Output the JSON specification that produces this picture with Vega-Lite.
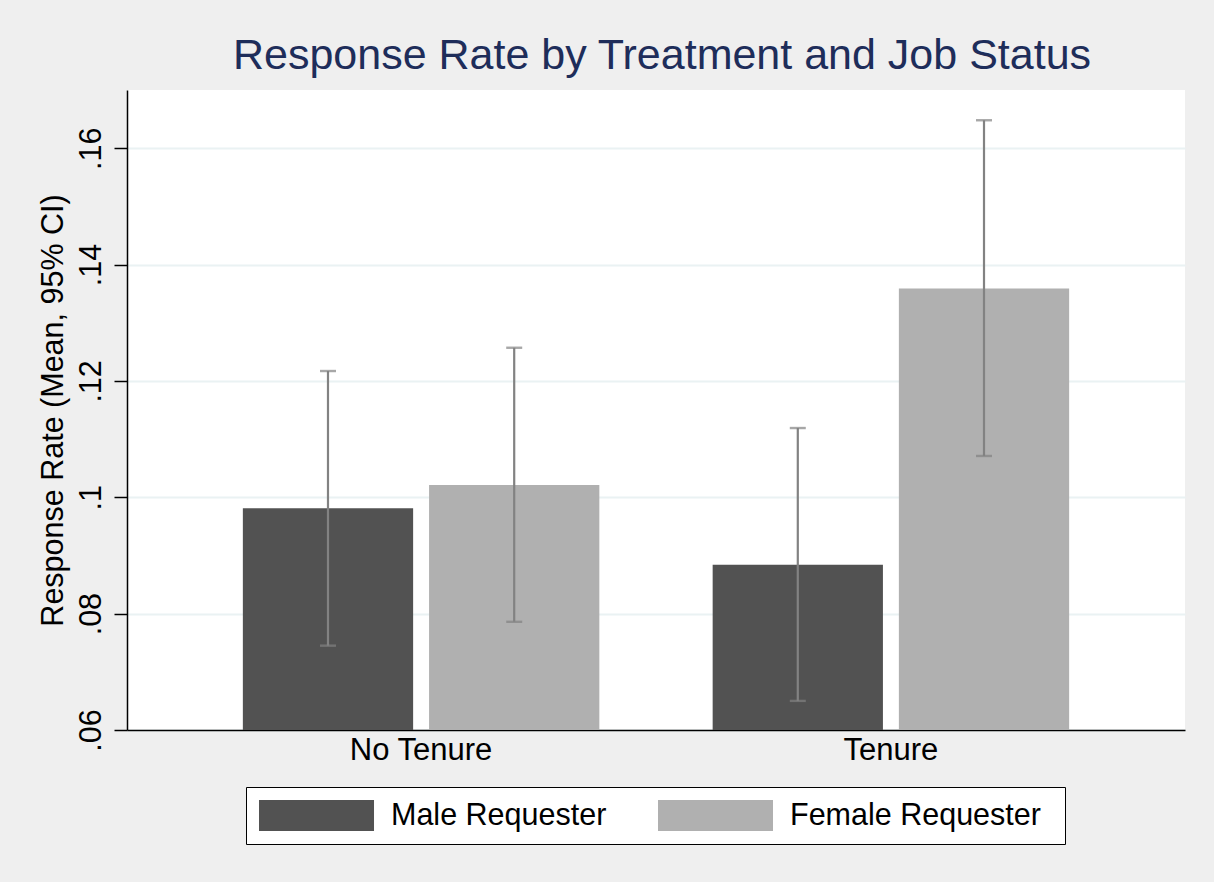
{
  "$schema": "https://vega.github.io/schema/vega-lite/v6.json",
  "autosize": {"type": "none"},
  "width": 1058,
  "height": 640,
  "padding": {"left": 127, "top": 90, "right": 29, "bottom": 152},
  "background": "#EFEFEF",
  "title": {
    "text": "Response Rate by Treatment and Job Status",
    "fontSize": 43,
    "font": "Liberation Sans",
    "fontWeight": "normal",
    "color": "#1E2D5A",
    "anchor": "middle",
    "dx": 6,
    "offset": 12
  },
  "config": {
    "view": {"fill": "white", "stroke": null},
    "font": "Liberation Sans"
  },
  "data": {
    "values": [
      {"job": "No Tenure", "gender": "Male Requester", "mean": 0.0981, "lo": 0.0745, "hi": 0.1217},
      {"job": "No Tenure", "gender": "Female Requester", "mean": 0.1021, "lo": 0.0786, "hi": 0.1257},
      {"job": "Tenure", "gender": "Male Requester", "mean": 0.0884, "lo": 0.0650, "hi": 0.1119},
      {"job": "Tenure", "gender": "Female Requester", "mean": 0.1359, "lo": 0.1071, "hi": 0.1648}
    ]
  },
  "encoding": {
    "x": {
      "field": "job",
      "type": "nominal",
      "scale": {"paddingInner": 0.2412, "paddingOuter": 0.2466},
      "axis": {
        "title": null,
        "labelAngle": 0,
        "labelFontSize": 31,
        "labelColor": "black",
        "labelFont": "Liberation Sans",
        "ticks": false,
        "labelPadding": 5,
        "domainColor": "black",
        "domainWidth": 1.5,
        "grid": false
      }
    },
    "xOffset": {
      "field": "gender",
      "type": "nominal",
      "sort": ["Male Requester", "Female Requester"],
      "scale": {"paddingInner": 0.0856, "paddingOuter": 0}
    }
  },
  "layer": [
    {
      "mark": {"type": "bar"},
      "encoding": {
        "y": {
          "field": "mean",
          "type": "quantitative",
          "scale": {"domain": [0.06, 0.17], "nice": false, "zero": false},
          "axis": {
            "title": "Response Rate (Mean, 95% CI)",
            "titleFontSize": 30.5,
            "titleFontWeight": "normal",
            "titleColor": "black",
            "titleFont": "Liberation Sans",
            "titlePadding": 8,
            "values": [0.06, 0.08, 0.1, 0.12, 0.14, 0.16],
            "labelExpr": "slice('' + datum.value, 1)",
            "labelAngle": -90,
            "labelFontSize": 30.5,
            "labelColor": "black",
            "labelFont": "Liberation Sans",
            "labelPadding": 8,
            "tickSize": 13,
            "tickColor": "black",
            "tickWidth": 1.5,
            "domainColor": "black",
            "domainWidth": 1.5,
            "grid": true,
            "gridColor": "#EAF2F3",
            "gridWidth": 2
          }
        },
        "y2": {"datum": 0.06},
        "color": {
          "field": "gender",
          "type": "nominal",
          "sort": ["Male Requester", "Female Requester"],
          "scale": {"domain": ["Male Requester", "Female Requester"], "range": ["#525252", "#B0B0B0"]},
          "legend": {
            "title": "\u2800",
            "titleOrient": "right",
            "titleFontSize": 15,
            "titlePadding": 0,
            "orient": "none",
            "legendX": 119,
            "legendY": 697,
            "direction": "horizontal",
            "columns": 2,
            "symbolType": "M-1,-1H6.42V1H-1Z",
            "symbolSize": 961,
            "symbolStrokeWidth": 0,
            "symbolOpacity": 1,
            "labelFontSize": 30.5,
            "labelFont": "Liberation Sans",
            "labelColor": "black",
            "labelOffset": 101,
            "labelLimit": 0,
            "columnPadding": 51,
            "padding": 13,
            "fillColor": "white",
            "strokeColor": "black"
          }
        }
      }
    },
    {
      "mark": {"type": "rule", "color": "#828282", "strokeWidth": 2.2},
      "encoding": {
        "y": {"field": "lo", "type": "quantitative"},
        "y2": {"field": "hi"}
      }
    },
    {
      "mark": {"type": "tick", "color": "#828282", "size": 16, "thickness": 2.4},
      "encoding": {
        "y": {"field": "lo", "type": "quantitative"}
      }
    },
    {
      "mark": {"type": "tick", "color": "#828282", "size": 16, "thickness": 2.4},
      "encoding": {
        "y": {"field": "hi", "type": "quantitative"}
      }
    }
  ]
}
